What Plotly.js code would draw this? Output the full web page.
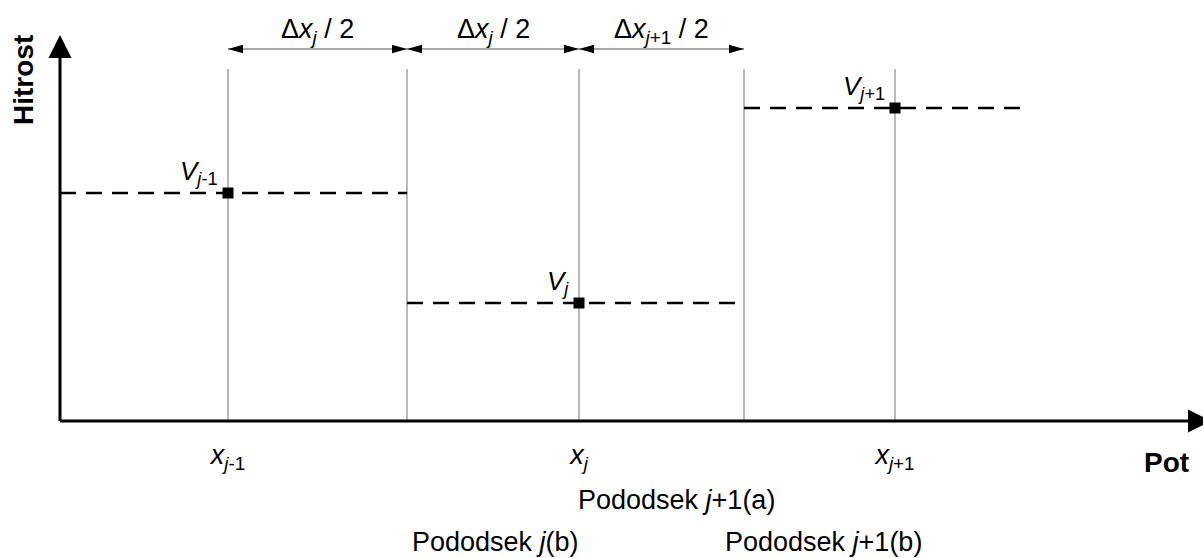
<!DOCTYPE html>
<html><head><meta charset="utf-8">
<script src="https://cdn.plot.ly/plotly-3.0.1.min.js"></script>
<style>html,body{margin:0;padding:0;background:#fff}#chart{width:1203px;height:558px}</style>
</head><body><div id="chart"></div>
<script>
// ---------- data (1 unit = 100 px) ----------
const nodeX = [1.68, 5.19, 8.35];                 // x_{j-1}, x_j, x_{j+1}
const nodeV = [2.28, 1.18, 3.13];                 // V_{j-1}, V_j, V_{j+1}
const nodeTickLabels = ['<i>x</i><sub><i>j</i>-1</sub>', '<i>x</i><sub><i>j</i></sub>', '<i>x</i><sub><i>j</i>+1</sub>'];
const nodeVLabels = ['<i>V</i><sub><i>j</i>-1</sub>', '<i>V</i><sub><i>j</i></sub>', '<i>V</i><sub><i>j</i>+1</sub>'];
const boundaryX = [3.47, 6.84];                   // sub-section borders
const segStart = [0, 3.47, 6.84];                 // dashed level start
const segEnd = [3.47, 6.84, 9.63];                // dashed level end
const gridTop = 3.52;                             // top of thin vertical lines
const spanStart = [1.68, 3.47, 5.19];
const spanEnd = [3.47, 5.19, 6.84];
const spanY = 3.72;
const spanLabels = ['Δ<i>x</i><sub><i>j</i></sub> / 2', 'Δ<i>x</i><sub><i>j</i></sub> / 2', 'Δ<i>x</i><sub><i>j</i>+1</sub> / 2'];
const xAxisEnd = 11.28;
const yAxisEnd = 3.63;
const xAxisTitle = 'Pot';
const yAxisTitle = 'Hitrost';
const subLabelsTop = ['Pododsek <i>j</i>+1(a)'];
const subLabelsBottom = ['Pododsek <i>j</i>(b)', 'Pododsek <i>j</i>+1(b)'];

// ---------- styles ----------
const FONT = 'Liberation Sans, Arial, Helvetica, sans-serif';
const gridX = nodeX.concat(boundaryX).sort((a, b) => a - b);

function segs(xs0, xs1, ys0, ys1) {
  const x = [], y = [];
  for (let i = 0; i < xs0.length; i++) { x.push(xs0[i], xs1[i], null); y.push(ys0[i], ys1[i], null); }
  return {x, y};
}
const vert = segs(gridX, gridX, gridX.map(() => 0), gridX.map(() => gridTop));
const spans = segs(spanStart, spanEnd, spanStart.map(() => spanY), spanStart.map(() => spanY));
const levels = segs(segStart, segEnd, nodeV, nodeV);
const axes = segs([0, 0], [xAxisEnd, 0], [0, 0], [0, yAxisEnd]);

const traces = [
  {x: vert.x, y: vert.y, mode: 'lines', line: {color: '#a3a3a3', width: 1.5}, hoverinfo: 'skip', showlegend: false},
  {x: spans.x, y: spans.y, mode: 'lines', line: {color: '#8c8c8c', width: 1.5}, hoverinfo: 'skip', showlegend: false},
  {x: levels.x, y: levels.y, mode: 'lines', line: {color: '#000', width: 2.5, dash: '16px,10px'}, hoverinfo: 'skip', showlegend: false},
  {x: nodeX, y: nodeV, mode: 'markers', marker: {symbol: 'square', size: 11, color: '#000'}, hoverinfo: 'skip', showlegend: false},
  {x: axes.x, y: axes.y, mode: 'lines', line: {color: '#000', width: 3}, hoverinfo: 'skip', showlegend: false}
];

function head(xa, ya, path) {
  return {type: 'path', xref: 'x', yref: 'y', xsizemode: 'pixel', ysizemode: 'pixel',
    xanchor: xa, yanchor: ya, path: path, fillcolor: '#000', line: {color: '#000', width: 0}, layer: 'above'};
}
const HL = 15, HW = 4.2;   // small head length / half width (px)
const shapes = [];
spanStart.forEach((s, i) => {
  shapes.push(head(s, spanY, `M0,0L${HL},${HW}L${HL},${-HW}Z`));
  shapes.push(head(spanEnd[i], spanY, `M0,0L${-HL},${HW}L${-HL},${-HW}Z`));
});
shapes.push(head(0, yAxisEnd, 'M-11.5,0L0,23L11.5,0Z'));
shapes.push(head(xAxisEnd, 0, 'M0,-11.5L23,0L0,11.5Z'));

const annotations = [];
nodeX.forEach((x, i) => annotations.push({x: x, y: nodeV[i], xref: 'x', yref: 'y', text: nodeVLabels[i],
  showarrow: false, xanchor: 'right', yanchor: 'bottom', xshift: -8, yshift: 2, font: {family: FONT, size: 26, color: '#000'}}));
spanStart.forEach((s, i) => annotations.push({x: (s + spanEnd[i]) / 2, y: spanY, xref: 'x', yref: 'y', text: spanLabels[i],
  showarrow: false, xanchor: 'center', yanchor: 'bottom', yshift: -1, font: {family: FONT, size: 27, color: '#000'}}));
annotations.push({x: xAxisEnd, y: -0.41, xref: 'x', yref: 'y', text: '<b>' + xAxisTitle + '</b>', showarrow: false,
  xanchor: 'right', yanchor: 'middle', xshift: 3, font: {family: FONT, size: 28, color: '#000'}});
annotations.push({x: -0.37, y: 3.41, xref: 'x', yref: 'y', text: '<b>' + yAxisTitle + '</b>', showarrow: false,
  textangle: -90, xanchor: 'center', yanchor: 'middle', font: {family: FONT, size: 28, color: '#000'}});
annotations.push({x: nodeX[1], y: -0.79, xref: 'x', yref: 'y', text: subLabelsTop[0], showarrow: false,
  xanchor: 'left', yanchor: 'middle', xshift: -3, font: {family: FONT, size: 27, color: '#000'}});
annotations.push({x: nodeX[1], y: -1.205, xref: 'x', yref: 'y', text: subLabelsBottom[0], showarrow: false,
  xanchor: 'right', yanchor: 'middle', xshift: 2, font: {family: FONT, size: 27, color: '#000'}});
annotations.push({x: (boundaryX[1] + nodeX[2]) / 2, y: -1.205, xref: 'x', yref: 'y', text: subLabelsBottom[1], showarrow: false,
  xanchor: 'center', yanchor: 'middle', xshift: 4, font: {family: FONT, size: 27, color: '#000'}});

const layout = {
  width: 1203, height: 558,
  margin: {l: 0, r: 0, t: 0, b: 0, pad: 0},
  paper_bgcolor: '#fff', plot_bgcolor: '#fff',
  xaxis: {range: [-0.60, 11.43], anchor: 'free', position: 1.37 / 5.58, showline: false, showgrid: false, zeroline: false,
    ticks: '', tickmode: 'array', tickvals: nodeX, ticktext: nodeTickLabels, ticklabelstandoff: 15,
    tickfont: {family: FONT, size: 27, color: '#000'}, fixedrange: true},
  yaxis: {range: [-1.37, 4.21], visible: false, showgrid: false, zeroline: false, fixedrange: true},
  shapes: shapes,
  annotations: annotations,
  showlegend: false,
  font: {family: FONT, color: '#000'}
};
Plotly.newPlot('chart', traces, layout, {displayModeBar: false, staticPlot: true});
</script>
</body></html>
